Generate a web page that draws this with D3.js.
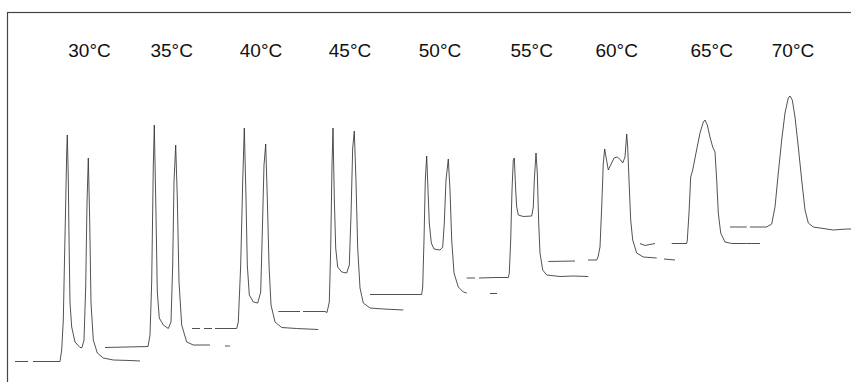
<!DOCTYPE html>
<html>
<head>
<meta charset="utf-8">
<script src="https://cdn.jsdelivr.net/npm/d3@7"></script>
<style>
  body { margin: 0; background: #fff; }
</style>
</head>
<body>
<div id="canevas"></div>
<script>
// ---------------------------------------------------------------- données
// températures de colonne
let temperatures = [30, 35, 40, 45, 50, 55, 60, 65, 70];

// position des étiquettes (unités de temps)
let etiquettesT = [89.5, 171.7, 261, 350, 440, 531.7, 616.7, 711.7, 793];

// chromatogrammes décalés : [temps, signal], null = trou dans le tracé
let c30 = [[15,20.5],[28,20.5],null,[33,20.5],[60,20.5],[61.7,32],[63.3,62],[64.3,112],[65.7,179],[66.7,229],[67.3,247],[68.3,203],[69,145],[70,79],[71.7,55],[75,40],[80,34.5],[82,34.5],[84,42],[85.7,95],[87,179],[88.3,224],[89.7,162],[91,79],[93.3,42],[97.3,29],[103.3,24],[113.3,22],[130,21.5],[140,21]];
let c35 = [[105,34.5],[148,35.5],[150,47],[151.7,100],[153.3,217],[154.3,257],[156,167],[157.3,90],[159.3,64],[163.3,57],[168.3,53.5],[171,60],[172.7,117],[174,200],[175.7,237],[177.3,184],[179,100],[181.7,57],[186.7,40],[193.3,37],[210,37],null,[225,36],[230,36]];
let c40 = [[192,53.5],[200,53.5],null,[204,53.5],[212,53.5],null,[215,53.5],[236.7,53.5],[238.3,60],[240.7,117],[242.7,200],[244.3,254],[246,184],[247.3,117],[249.3,87],[253.3,80],[257.7,79],[260.7,90],[262.3,150],[264,217],[265.7,238],[267.3,184],[269,117],[271,77],[275,60],[281.7,54.5],[296.7,53.5],[318.3,52.5]];
let c45 = [[278.3,70.5],[300,70.5],null,[303,70.5],[325,70.5],[327,69.5],[329.3,80],[330.7,134],[332,217],[333,254],[334.3,184],[335.7,134],[337.7,115],[341.7,110],[346.7,109],[349.3,117],[351,167],[352.7,234],[354.3,251],[356,200],[357.7,134],[360,94],[363.3,79],[370,74],[383.3,73],[403.3,72]];
let c50 = [[370,87.5],[421.7,87.5],[422.7,95],[424,142],[425.3,202],[426.7,226],[428,192],[429.3,159],[431.3,139],[434,133],[440,132],[442.7,135],[444.3,159],[446,202],[448.3,223],[450,192],[451.7,142],[454,109],[458.3,95],[463.3,90],[466.7,89],null,[490,88.5],[497,88.5]];
let c55 = [[466.7,104],[475,104],null,[479,104],[495,104.5],[508.3,104.5],[509.3,109],[510.7,142],[512,192],[513.3,222],[514.3,224],[515.7,192],[516.7,175],[518.3,167],[523.3,165.5],[531.7,166],[533.3,175],[534.3,202],[536,229],[537.3,209],[538.7,159],[540,129],[542.7,112],[546.7,107],[560,105.5],[573.3,106],[588.3,105.5]];
let c60 = [[548.3,120.5],[575,121],null,[588,122],[596.7,122],[598,125],[600,135],[601.7,175],[603.3,219],[604.7,233],[606,225],[608.3,212],[610.7,217],[614,224],[617.3,225],[620.7,222],[622.7,219],[625,225],[626.7,248],[627.7,235],[629,202],[630.7,162],[632.7,142],[636.7,129],[643.3,125],[656.7,124],null,[664,123],[675,122]];
let c65 = [[640,138.5],[645,136.5],[655,138.5],null,[671.7,138.5],[686.7,138.5],[687.3,142],[689,169],[690.7,205],[692.7,212],[696,229],[700,249],[703.3,260],[705,262],[707.3,257],[710,245],[712.7,235],[715,230],[716.7,202],[718.3,169],[720.7,149],[725,140],[731.7,138.5],[746.7,138.5],[760,138.5]];
let c70 = [[730,155],[746.7,155],null,[750,155],[766.7,155],[771.7,158],[775,175],[778.3,209],[781.7,242],[785,269],[788.3,284],[790,286],[792.3,282],[795,265],[798.3,235],[801.7,202],[805,172],[808.3,159],[813.3,155],[820,154],[833.3,152],[846.7,153],[851,153]];

let traces = [c30, c35, c40, c45, c50, c55, c60, c65, c70];

// ---------------------------------------------------------------- canevas
let largeur = 851;
let hauteur = 382;

let canevas = d3.select("#canevas")
  .append("svg")
  .attr("width", largeur)
  .attr("height", hauteur);

canevas.append("rect")
  .attr("width", "100%")
  .attr("height", "100%")
  .attr("fill", "#fff");

// echelles
let echelleX = d3.scaleLinear()
  .domain([0, 851])
  .range([0, largeur]);

let echelleY = d3.scaleLinear()
  .domain([0, 382])
  .range([hauteur, 0]);

// cadre (bords droit et bas hors champ)
canevas.append("rect")
  .attr("x", 7.5)
  .attr("y", 12.5)
  .attr("width", largeur)
  .attr("height", hauteur)
  .attr("fill", "none")
  .attr("stroke", "#444")
  .attr("stroke-width", 1.2);

// traces
let ligne = d3.line()
  .defined(d => d)
  .x(d => echelleX(d[0]))
  .y(d => echelleY(d[1]));

canevas.selectAll("path.trace")
  .data(traces)
  .enter()
  .append("path")
    .attr("class", "trace")
    .attr("d", ligne)
    .attr("fill", "none")
    .attr("stroke", "#333")
    .attr("stroke-width", 0.85)
    .attr("stroke-linejoin", "round");

// étiquettes
canevas.selectAll("text.temp")
  .data(temperatures)
  .enter()
  .append("text")
    .attr("class", "temp")
    .attr("x", (d, i) => echelleX(etiquettesT[i]))
    .attr("y", 57)
    .attr("text-anchor", "middle")
    .attr("font-family", "Liberation Sans, Arial, sans-serif")
    .attr("font-size", 19)
    .attr("fill", "#111")
    .text(d => d + "°C");
</script>
</body>
</html>
